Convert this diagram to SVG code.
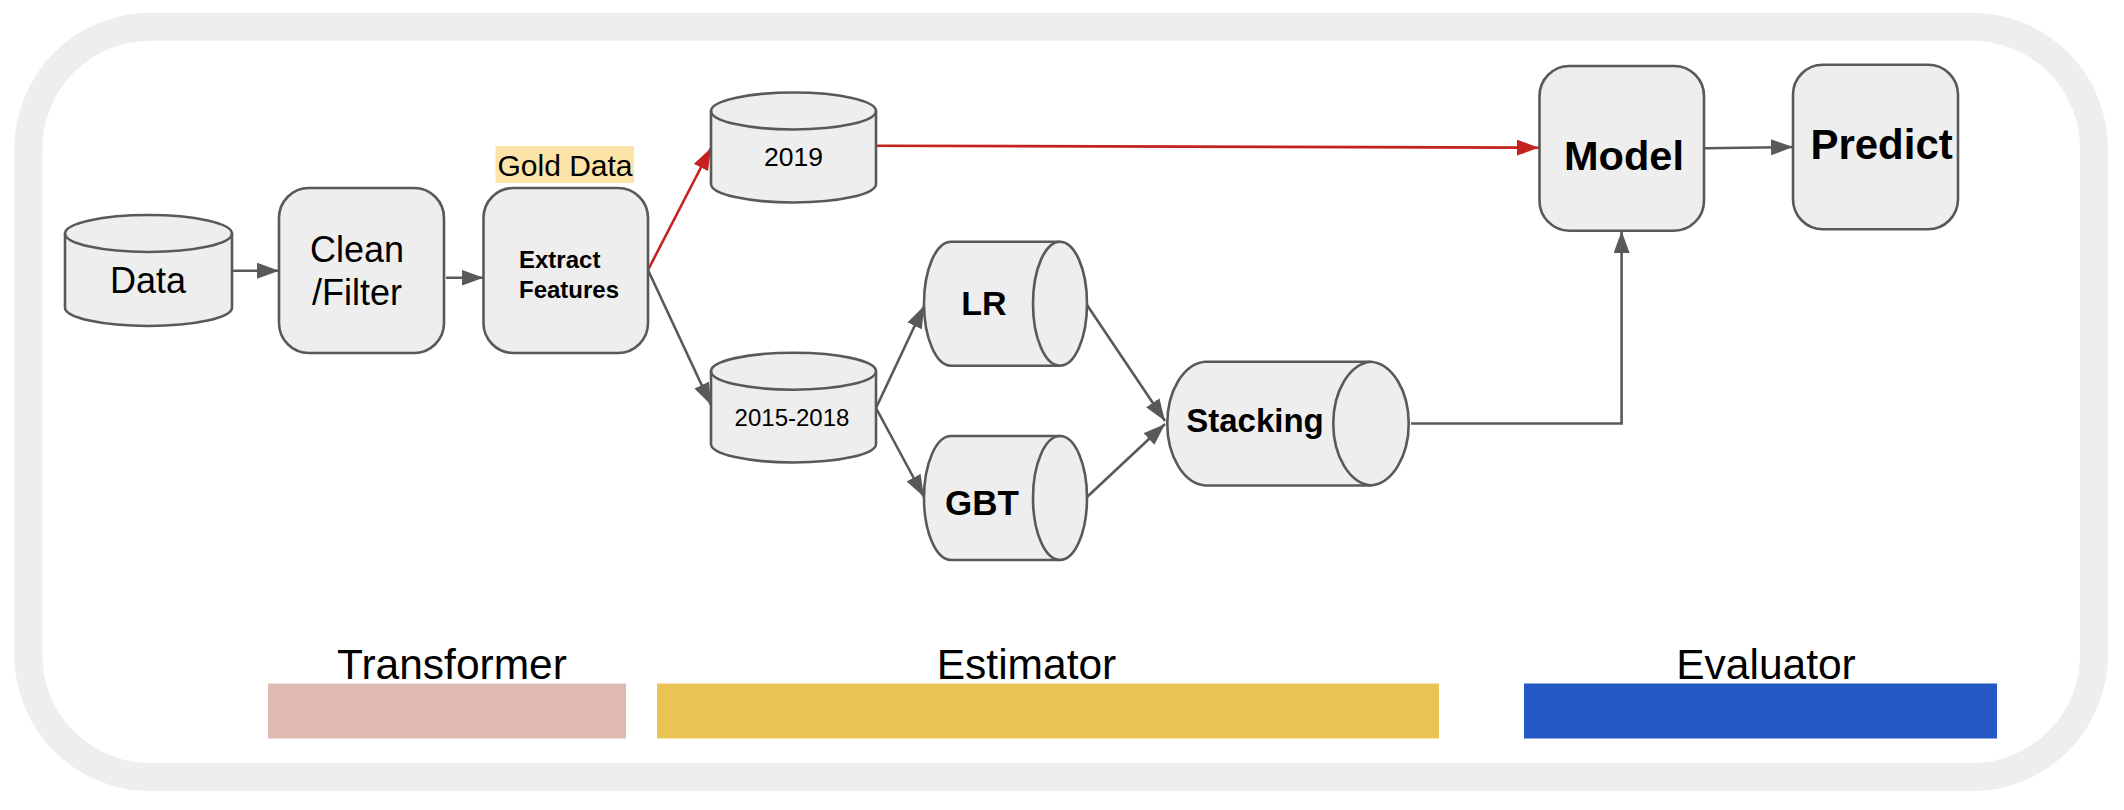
<svg xmlns="http://www.w3.org/2000/svg" width="2124" height="810" viewBox="0 0 2124 810">
<style>
.n{fill:#eeeeee;stroke:#595959;stroke-width:2.6}
.e{fill:none;stroke:#595959;stroke-width:2.6}
.t{font-family:"Liberation Sans",Arial,sans-serif;fill:#000;text-anchor:middle}
.b{font-weight:bold}
.c{fill:none;stroke:#595959;stroke-width:2.6}
.r{fill:none;stroke:#c5221f;stroke-width:2.6}
</style>
<defs>
<marker id="ag" markerUnits="userSpaceOnUse" markerWidth="22" markerHeight="16" refX="22" refY="8" orient="auto"><path d="M0,0 L22,8 L0,16 Z" fill="#595959"/></marker>
<marker id="ar" markerUnits="userSpaceOnUse" markerWidth="22" markerHeight="16" refX="22" refY="8" orient="auto"><path d="M0,0 L22,8 L0,16 Z" fill="#c5221f"/></marker>
</defs>
<rect id="frame" x="28.3" y="26.7" width="2065.7" height="750.3" rx="122" ry="122" fill="none" stroke="#eeeeee" stroke-width="28"/>
<g id="connectors">
<line class="c" x1="232" y1="270.7" x2="279" y2="270.7" marker-end="url(#ag)"/>
<line class="c" x1="446" y1="277.7" x2="483.5" y2="277.7" marker-end="url(#ag)"/>
<line class="r" x1="648" y1="270" x2="711" y2="148" marker-end="url(#ar)"/>
<line class="c" x1="648" y1="270" x2="711" y2="405" marker-end="url(#ag)"/>
<line class="c" x1="876" y1="408" x2="924" y2="306" marker-end="url(#ag)"/>
<line class="c" x1="876" y1="408" x2="924" y2="497" marker-end="url(#ag)"/>
<line class="c" x1="1087" y1="305" x2="1165" y2="421" marker-end="url(#ag)"/>
<line class="c" x1="1087" y1="497" x2="1165" y2="424" marker-end="url(#ag)"/>
<line class="r" x1="876" y1="145.7" x2="1539" y2="147.7" marker-end="url(#ar)"/>
<line class="c" x1="1705" y1="148.3" x2="1793" y2="147" marker-end="url(#ag)"/>
<polyline class="c" points="1411,423.5 1621.6,423.5 1621.6,231" marker-end="url(#ag)"/>
</g>
<g id="data">
<path class="n" d="M65,233.5 A83.5,18.5 0 0 1 232,233.5 V307.5 A83.5,18.5 0 0 1 65,307.5 Z"/>
<path class="e" d="M65,233.5 A83.5,18.5 0 0 0 232,233.5"/>
<text class="t" x="148" y="293" font-size="36">Data</text>
</g>
<g id="clean">
<rect class="n" x="279" y="188" width="165" height="165" rx="30"/>
<text class="t" x="357" y="262" font-size="36">Clean</text>
<text class="t" x="357" y="305" font-size="36">/Filter</text>
</g>
<g id="gold">
<rect x="495.5" y="146" width="138.5" height="37" fill="#fce4a8"/>
<text class="t" x="565" y="176" font-size="30">Gold Data</text>
</g>
<g id="extract">
<rect class="n" x="483.5" y="188" width="164.5" height="165" rx="30"/>
<text class="t b" x="519" y="268" font-size="24" style="text-anchor:start">Extract</text>
<text class="t b" x="519" y="298" font-size="24" style="text-anchor:start">Features</text>
</g>
<g id="y2019">
<path class="n" d="M711,111 A82.5,18.5 0 0 1 876,111 V184 A82.5,18.5 0 0 1 711,184 Z"/>
<path class="e" d="M711,111 A82.5,18.5 0 0 0 876,111"/>
<text class="t" x="793.5" y="166" font-size="26.5">2019</text>
</g>
<g id="y2015">
<path class="n" d="M711,371.2 A82.5,18.5 0 0 1 876,371.2 V444 A82.5,18.5 0 0 1 711,444 Z"/>
<path class="e" d="M711,371.2 A82.5,18.5 0 0 0 876,371.2"/>
<text class="t" x="792" y="425.7" font-size="24">2015-2018</text>
</g>
<g id="lr">
<path class="n" d="M951,241.7 H1060 A27,62 0 0 1 1060,365.7 H951 A27,62 0 0 1 951,241.7 Z"/>
<path class="e" d="M1060,241.7 A27,62 0 0 0 1060,365.7"/>
<text class="t b" x="984" y="315" font-size="34">LR</text>
</g>
<g id="gbt">
<path class="n" d="M951,436 H1060 A27,62 0 0 1 1060,560 H951 A27,62 0 0 1 951,436 Z"/>
<path class="e" d="M1060,436 A27,62 0 0 0 1060,560"/>
<text class="t b" x="982" y="515" font-size="35">GBT</text>
</g>
<g id="stacking">
<path class="n" d="M1205,361.7 H1371 A40,62 0 0 1 1371,485.5 H1205 A40,62 0 0 1 1205,361.7 Z"/>
<path class="e" d="M1371,361.7 A40,62 0 0 0 1371,485.5"/>
<text class="t b" x="1255" y="431.7" font-size="33">Stacking</text>
</g>
<g id="model">
<rect class="n" x="1539.5" y="66" width="164.5" height="164.7" rx="30"/>
<text class="t b" x="1624" y="170" font-size="41.5">Model</text>
</g>
<g id="predict">
<rect class="n" x="1793" y="64.7" width="165" height="164.6" rx="30"/>
<text class="t b" x="1881.6" y="159.3" font-size="42">Predict</text>
</g>
<g id="legend">
<rect x="268" y="683.5" width="358" height="55" fill="#dfbab1"/>
<rect x="657" y="683.5" width="782" height="55" fill="#e9c452"/>
<rect x="1524" y="683.5" width="473" height="55" fill="#2459c5"/>
<text class="t" x="452" y="679" font-size="42.5">Transformer</text>
<text class="t" x="1026.5" y="679" font-size="42.5">Estimator</text>
<text class="t" x="1766" y="679" font-size="42.5">Evaluator</text>
</g>
</svg>
